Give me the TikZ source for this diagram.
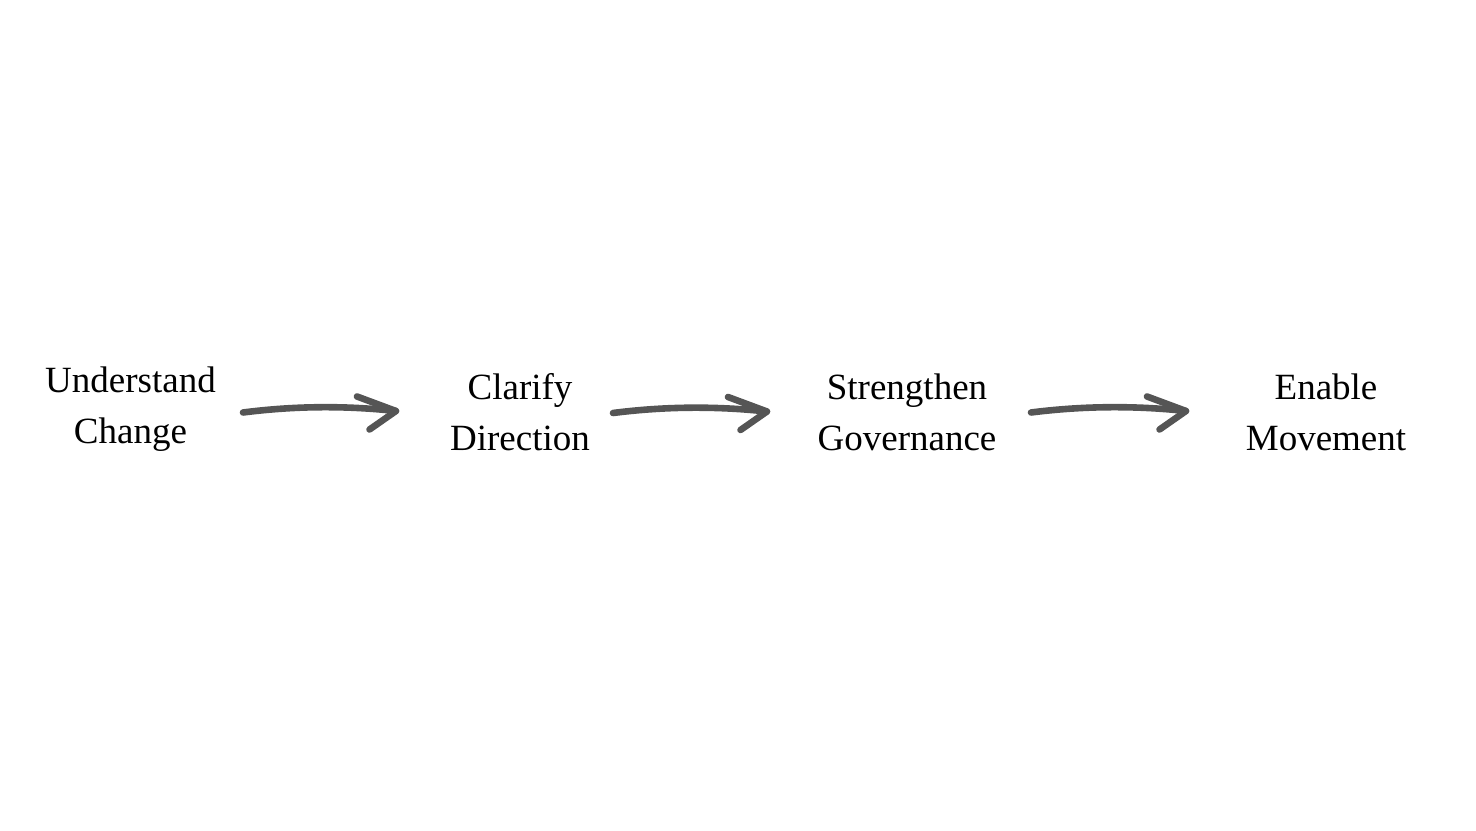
\documentclass[tikz,border=0pt]{standalone}
\usepackage{fontspec}
\setmainfont{Liberation Serif}
\definecolor{arrowgray}{HTML}{555555}

\begin{document}
\begin{tikzpicture}[
          x=0.5pt, y=-0.5pt,
          every node/.style={
            align=center,
            inner sep=0pt,
            anchor=north,
            font=\fontsize{18.5}{25.5}\selectfont,
          },
          flow/.style={
            draw=arrowgray,
            line width=3.3pt,
            line cap=round,
            line join=round,
          },
        ]
        \useasboundingbox (0,0) rectangle (1476,830);
        \node at (130.5,366.5) (understand) {Understand\\Change} ;
        \node at (520,373.5) (clarify) {Clarify\\Direction} ;
        \node at (907,373) (strengthen) {Strengthen\\Governance} ;
        \node at (1326,373) (enable) {Enable\\Movement} ;
        \coordinate (a1s) at (243,412.5) ;
        \coordinate (a1e) at (396,411) ;
        \coordinate (a2s) at (613,413) ;
        \coordinate (a2e) at (767,411.5) ;
        \coordinate (a3s) at (1031,412.5) ;
        \coordinate (a3e) at (1186,411) ;
        \draw[flow] (a1s) .. controls +(47,-6) and +(-56,-6) .. (a1e) ;
        \draw[flow] (a1e) ++(-39,-14.5) -- (a1e) -- ++(-26.5,18.5) ;
        \draw[flow] (a2s) .. controls +(47,-6) and +(-56,-6) .. (a2e) ;
        \draw[flow] (a2e) ++(-39,-14.5) -- (a2e) -- ++(-26.5,18.5) ;
        \draw[flow] (a3s) .. controls +(47,-6) and +(-56,-6) .. (a3e) ;
        \draw[flow] (a3e) ++(-39,-14.5) -- (a3e) -- ++(-26.5,18.5) ;
        \end{tikzpicture}
\end{document}
